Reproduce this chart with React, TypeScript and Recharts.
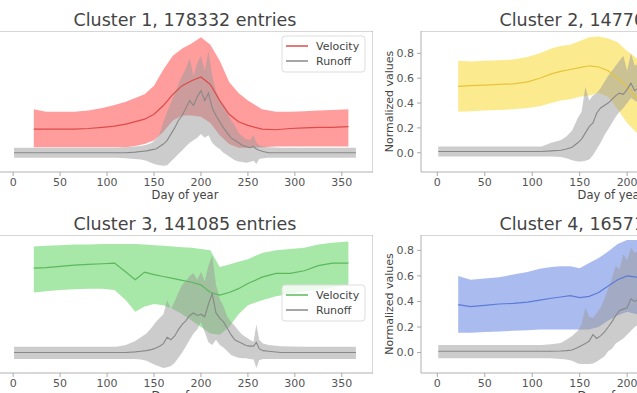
import React from "react";
import {
  Area,
  ComposedChart,
  Line,
  ReferenceArea,
  XAxis,
  YAxis,
} from "recharts";

// days where the velocity mean / band was sampled
const velocityDays = [22, 35, 50, 65, 80, 95, 108, 120, 130, 140, 150, 160, 170, 180, 190, 200, 210, 220, 230, 240, 250, 265, 280, 295, 310, 325, 340, 357];

// days where runoff was sampled
const runoffDays = [1, 30, 60, 90, 110, 120, 130, 136, 142, 148, 152, 156, 160, 164, 168, 172, 176, 180, 184, 188, 192, 196, 200, 204, 208, 212, 216, 220, 224, 228, 232, 236, 240, 244, 248, 252, 256, 259, 262, 266, 272, 285, 310, 340, 365];

const xTicks = [0, 50, 100, 150, 200, 250, 300, 350];
const yTicks = [0, 0.2, 0.4, 0.6, 0.8];

const titles = ["Cluster 1, 178332 entries", "Cluster 2, 147706 entries", "Cluster 3, 141085 entries", "Cluster 4, 165713 entries"];

// cluster 1
const c1VelMean = [0.19, 0.19, 0.19, 0.19, 0.195, 0.205, 0.215, 0.23, 0.25, 0.27, 0.31, 0.38, 0.47, 0.54, 0.58, 0.61, 0.55, 0.42, 0.31, 0.25, 0.22, 0.19, 0.185, 0.195, 0.2, 0.205, 0.205, 0.21];
const c1VelHi = [0.35, 0.33, 0.33, 0.33, 0.34, 0.36, 0.385, 0.41, 0.44, 0.47, 0.54, 0.67, 0.78, 0.84, 0.88, 0.93, 0.87, 0.74, 0.57, 0.48, 0.42, 0.35, 0.33, 0.33, 0.335, 0.34, 0.345, 0.35];
const c1VelLo = [0.045, 0.045, 0.045, 0.045, 0.045, 0.045, 0.045, 0.045, 0.055, 0.07, 0.1, 0.17, 0.26, 0.3, 0.3, 0.29, 0.24, 0.14, 0.07, 0.04, 0.04, 0.045, 0.05, 0.05, 0.05, 0.05, 0.05, 0.05];
const c1RunMean = [0, 0, 0, 0, 0, 0, 0.005, 0.01, 0.015, 0.025, 0.03, 0.05, 0.07, 0.1, 0.15, 0.2, 0.26, 0.3, 0.36, 0.42, 0.38, 0.45, 0.5, 0.42, 0.48, 0.36, 0.3, 0.25, 0.2, 0.16, 0.12, 0.1, 0.08, 0.06, 0.05, 0.04, 0.05, 0.03, 0.02, 0.01, 0, 0, 0, 0, 0];
const c1RunLo = [-0.04, -0.04, -0.04, -0.04, -0.04, -0.045, -0.05, -0.055, -0.065, -0.085, -0.095, -0.1, -0.105, -0.1, -0.07, -0.04, -0.01, 0.02, 0.05, 0.08, 0.1, 0.12, 0.15, 0.12, 0.14, 0.08, 0.05, 0.03, 0, -0.02, -0.04, -0.06, -0.07, -0.075, -0.08, -0.075, -0.065, -0.09, -0.05, -0.045, -0.04, -0.04, -0.04, -0.04, -0.04];
const c1RunHi = [0.04, 0.04, 0.04, 0.04, 0.04, 0.045, 0.05, 0.055, 0.065, 0.08, 0.11, 0.15, 0.25, 0.33, 0.4, 0.48, 0.55, 0.62, 0.68, 0.76, 0.62, 0.72, 0.78, 0.66, 0.82, 0.62, 0.5, 0.42, 0.38, 0.32, 0.26, 0.22, 0.16, 0.13, 0.11, 0.1, 0.14, 0.08, 0.06, 0.05, 0.045, 0.04, 0.04, 0.04, 0.04];

// cluster 2
const c2VelMean = [0.535, 0.54, 0.545, 0.55, 0.555, 0.57, 0.6, 0.635, 0.655, 0.67, 0.685, 0.7, 0.69, 0.66, 0.6, 0.53, 0.44, 0.38, 0.34, 0.32, 0.31, 0.31, 0.32, 0.33, 0.34, 0.35, 0.36, 0.37];
const c2VelHi = [0.74, 0.735, 0.74, 0.745, 0.75, 0.77, 0.8, 0.84, 0.86, 0.87, 0.9, 0.93, 0.935, 0.92, 0.89, 0.82, 0.76, 0.66, 0.58, 0.54, 0.52, 0.52, 0.53, 0.54, 0.55, 0.56, 0.57, 0.58];
const c2VelLo = [0.33, 0.335, 0.34, 0.345, 0.35, 0.36, 0.375, 0.4, 0.42, 0.43, 0.45, 0.46, 0.48, 0.45, 0.35, 0.24, 0.16, 0.12, 0.1, 0.1, 0.1, 0.1, 0.11, 0.12, 0.13, 0.14, 0.15, 0.16];
const c2RunMean = [0.01, 0.01, 0.01, 0.01, 0.01, 0.015, 0.02, 0.03, 0.045, 0.08, 0.11, 0.16, 0.21, 0.24, 0.32, 0.36, 0.38, 0.4, 0.43, 0.46, 0.48, 0.47, 0.51, 0.56, 0.5, 0.52, 0.48, 0.45, 0.4, 0.35, 0.3, 0.26, 0.22, 0.18, 0.15, 0.12, 0.1, 0.08, 0.06, 0.05, 0.03, 0.02, 0.01, 0.01, 0.01];
const c2RunLo = [-0.03, -0.03, -0.03, -0.03, -0.03, -0.03, -0.035, -0.045, -0.06, -0.07, -0.07, -0.065, -0.055, -0.02, 0.03, 0.08, 0.14, 0.19, 0.24, 0.29, 0.33, 0.36, 0.4, 0.44, 0.42, 0.4, 0.36, 0.3, 0.24, 0.2, 0.16, 0.12, 0.09, 0.06, 0.04, 0.02, 0, -0.01, -0.02, -0.02, -0.025, -0.03, -0.03, -0.03, -0.03];
const c2RunHi = [0.05, 0.05, 0.05, 0.05, 0.05, 0.08, 0.1, 0.13, 0.18, 0.28, 0.33, 0.53, 0.42, 0.46, 0.48, 0.52, 0.57, 0.62, 0.66, 0.7, 0.74, 0.78, 0.66, 0.8, 0.7, 0.72, 0.68, 0.64, 0.58, 0.52, 0.46, 0.4, 0.35, 0.3, 0.26, 0.22, 0.19, 0.16, 0.13, 0.11, 0.08, 0.06, 0.05, 0.05, 0.05];

// cluster 3
const c3VelMean = [0.66, 0.665, 0.675, 0.685, 0.69, 0.695, 0.7, 0.63, 0.57, 0.63, 0.61, 0.595, 0.58, 0.565, 0.55, 0.53, 0.47, 0.45, 0.47, 0.5, 0.54, 0.59, 0.62, 0.62, 0.64, 0.68, 0.7, 0.7];
const c3VelHi = [0.83, 0.835, 0.84, 0.845, 0.845, 0.85, 0.85, 0.85, 0.85, 0.845, 0.84, 0.835, 0.83, 0.825, 0.82, 0.81, 0.8, 0.67, 0.69, 0.71, 0.73, 0.78, 0.8, 0.81, 0.82, 0.845, 0.86, 0.87];
const c3VelLo = [0.47, 0.48, 0.49, 0.495, 0.5, 0.5, 0.49, 0.41, 0.32, 0.36, 0.38, 0.37, 0.34, 0.3, 0.25, 0.2, 0.15, 0.14, 0.2, 0.3, 0.37, 0.41, 0.44, 0.46, 0.48, 0.49, 0.51, 0.53];
const c3RunMean = [0, 0, 0, 0, 0, 0, 0.005, 0.01, 0.015, 0.025, 0.035, 0.05, 0.07, 0.12, 0.1, 0.13, 0.18, 0.22, 0.25, 0.29, 0.31, 0.29, 0.3, 0.28, 0.38, 0.46, 0.31, 0.27, 0.24, 0.19, 0.14, 0.1, 0.085, 0.07, 0.055, 0.05, 0.05, 0.08, 0.03, 0.015, 0.01, 0, 0, 0, 0];
const c3RunLo = [-0.05, -0.05, -0.05, -0.05, -0.05, -0.05, -0.05, -0.055, -0.065, -0.085, -0.1, -0.11, -0.12, -0.115, -0.105, -0.08, -0.04, 0, 0.05, 0.1, 0.15, 0.18, 0.24, 0.16, 0.08, 0.06, 0.1, 0.06, 0.04, 0.01, -0.02, -0.03, -0.04, -0.045, -0.045, -0.05, -0.055, -0.12, -0.06, -0.05, -0.05, -0.05, -0.05, -0.05, -0.05];
const c3RunHi = [0.045, 0.045, 0.045, 0.045, 0.045, 0.06, 0.09, 0.12, 0.15, 0.2, 0.24, 0.27, 0.3, 0.41, 0.34, 0.4, 0.47, 0.53, 0.56, 0.6, 0.62, 0.57, 0.63, 0.56, 0.68, 0.76, 0.53, 0.42, 0.36, 0.28, 0.24, 0.21, 0.17, 0.14, 0.12, 0.1, 0.085, 0.22, 0.1, 0.07, 0.06, 0.05, 0.045, 0.045, 0.045];

// cluster 4
const c4VelMean = [0.375, 0.36, 0.37, 0.38, 0.385, 0.395, 0.41, 0.425, 0.435, 0.445, 0.43, 0.44, 0.47, 0.52, 0.57, 0.6, 0.59, 0.57, 0.54, 0.5, 0.47, 0.44, 0.42, 0.41, 0.4, 0.4, 0.39, 0.39];
const c4VelHi = [0.6, 0.57, 0.58, 0.59, 0.61, 0.63, 0.655, 0.67, 0.675, 0.675, 0.66, 0.7, 0.74, 0.79, 0.85, 0.88, 0.88, 0.87, 0.85, 0.8, 0.76, 0.72, 0.69, 0.68, 0.67, 0.66, 0.66, 0.65];
const c4VelLo = [0.155, 0.155, 0.16, 0.165, 0.17, 0.175, 0.18, 0.18, 0.18, 0.18, 0.18, 0.18, 0.2, 0.25, 0.29, 0.32, 0.3, 0.27, 0.24, 0.2, 0.18, 0.16, 0.15, 0.14, 0.14, 0.13, 0.13, 0.13];
const c4RunMean = [0.01, 0.01, 0.01, 0.01, 0.01, 0.01, 0.012, 0.015, 0.02, 0.04, 0.055, 0.07, 0.09, 0.14, 0.11, 0.13, 0.16, 0.2, 0.24, 0.29, 0.33, 0.34, 0.35, 0.42, 0.4, 0.42, 0.4, 0.37, 0.33, 0.3, 0.26, 0.22, 0.19, 0.16, 0.13, 0.1, 0.08, 0.07, 0.05, 0.04, 0.03, 0.02, 0.01, 0.01, 0.01];
const c4RunLo = [-0.045, -0.045, -0.045, -0.045, -0.045, -0.045, -0.05, -0.055, -0.065, -0.085, -0.09, -0.09, -0.09, -0.085, -0.07, -0.05, -0.03, 0.01, 0.03, 0.07, 0.09, 0.11, 0.14, 0.17, 0.2, 0.22, 0.2, 0.17, 0.14, 0.12, 0.1, 0.07, 0.05, 0.03, 0.01, 0, -0.01, -0.02, -0.03, -0.035, -0.04, -0.045, -0.045, -0.045, -0.045];
const c4RunHi = [0.06, 0.06, 0.06, 0.06, 0.06, 0.065, 0.075, 0.1, 0.13, 0.17, 0.22, 0.35, 0.28, 0.27, 0.31, 0.35, 0.42, 0.5, 0.58, 0.68, 0.65, 0.77, 0.72, 0.82, 0.78, 0.8, 0.78, 0.72, 0.66, 0.6, 0.52, 0.45, 0.4, 0.34, 0.28, 0.24, 0.2, 0.17, 0.14, 0.11, 0.09, 0.07, 0.06, 0.06, 0.06];

const build = (days: number[], mean: number[], lo: number[], hi: number[]) =>
  days.map((day, i) => ({ day, mean: mean[i], range: [lo[i], hi[i]] }));

const X_DOMAIN: [number, number] = [-17.2, 383.2];
const AXIS_W = 40;
const AXIS_H = 30;

// left-column panels are cut by the picture edge, so their y axis is not shown
const panels = [
  { left: -3, top: 31, w: 376, h: 141, domain: [-0.155, 0.98], showY: false, fill: "#ff3b3b", line: "#dd4b4b", vel: build(velocityDays, c1VelMean, c1VelLo, c1VelHi), run: build(runoffDays, c1RunMean, c1RunLo, c1RunHi) },
  { left: 421, top: 31, w: 380, h: 141, domain: [-0.155, 0.98], showY: true, fill: "#f7d51d", line: "#e8c43a", vel: build(velocityDays, c2VelMean, c2VelLo, c2VelHi), run: build(runoffDays, c2RunMean, c2RunLo, c2RunHi) },
  { left: -3, top: 235, w: 376, h: 138, domain: [-0.16, 0.92], showY: false, fill: "#4fd04f", line: "#5cb85c", vel: build(velocityDays, c3VelMean, c3VelLo, c3VelHi), run: build(runoffDays, c3RunMean, c3RunLo, c3RunHi) },
  { left: 421, top: 235, w: 380, h: 138, domain: [-0.16, 0.92], showY: true, fill: "#5577e0", line: "#5a7bd8", vel: build(velocityDays, c4VelMean, c4VelLo, c4VelHi), run: build(runoffDays, c4RunMean, c4RunLo, c4RunHi) },
];

const tickStyle = { fontSize: 11, fill: "#555", fontFamily: "DejaVu Sans" };
const textColor = "#444";

function Panel({ p }: { p: (typeof panels)[number] }) {
  return (
    <div style={{ position: "absolute", left: p.left - AXIS_W, top: p.top }}>
      <ComposedChart width={p.w + AXIS_W} height={p.h + AXIS_H} margin={{ top: 0, right: 0, bottom: 0, left: 0 }}>
        <XAxis
          type="number"
          dataKey="day"
          domain={X_DOMAIN}
          ticks={xTicks}
          interval={0}
          allowDataOverflow
          height={AXIS_H}
          axisLine={false}
          tickSize={4}
          tickLine={{ stroke: "#aaa" }}
          tick={tickStyle}
        />
        <YAxis
          type="number"
          domain={p.domain}
          ticks={yTicks}
          interval={0}
          allowDataOverflow
          width={AXIS_W}
          axisLine={false}
          tickSize={4}
          tickMargin={3}
          tickLine={p.showY ? { stroke: "#aaa" } : false}
          tick={p.showY ? tickStyle : false}
          tickFormatter={(v: number) => v.toFixed(1)}
        />
        <Area data={p.vel} dataKey="range" type="linear" stroke="none" fill={p.fill} fillOpacity={0.5} isAnimationActive={false} />
        <Line data={p.vel} dataKey="mean" type="linear" stroke={p.line} strokeWidth={1.2} dot={false} activeDot={false} isAnimationActive={false} />
        <Area data={p.run} dataKey="range" type="linear" stroke="none" fill="#999" fillOpacity={0.5} isAnimationActive={false} />
        <Line data={p.run} dataKey="mean" type="linear" stroke="#888" strokeWidth={1.1} dot={false} activeDot={false} isAnimationActive={false} />
        <ReferenceArea x1={X_DOMAIN[0]} x2={X_DOMAIN[1]} y1={p.domain[0]} y2={p.domain[1]} fill="none" stroke="#b0b0b0" strokeWidth={1} />
      </ComposedChart>
    </div>
  );
}

function LegendBox({ x, y, color }: { x: number; y: number; color: string }) {
  return (
    <g>
      <rect x={x} y={y} width={83} height={36} rx={3} fill="#fff" fillOpacity={0.8} stroke="#ddd" />
      <line x1={x + 4} x2={x + 26} y1={y + 10} y2={y + 10} stroke={color} strokeWidth={1.5} />
      <text x={x + 34} y={y + 14} fontSize={11} fill={textColor}>Velocity</text>
      <line x1={x + 4} x2={x + 26} y1={y + 25} y2={y + 25} stroke="#888" strokeWidth={1.5} />
      <text x={x + 34} y={y + 29} fontSize={11} fill={textColor}>Runoff</text>
    </g>
  );
}

export default function App() {
  return (
    <div style={{ position: "relative", width: 637, height: 393, overflow: "hidden", background: "#fff", fontFamily: "DejaVu Sans" }}>
      <style>{"body{margin:0}"}</style>
      {panels.map((p, i) => (
        <Panel key={i} p={p} />
      ))}
      <svg width={637} height={393} style={{ position: "absolute", left: 0, top: 0, pointerEvents: "none" }} fontFamily="DejaVu Sans">
        {panels.map((p, i) => (
          <g key={i}>
            <text x={p.left + p.w / 2} y={p.top - 5} textAnchor="middle" fontSize={17.5} fill={textColor}>
              {titles[i]}
            </text>
            <text x={p.left + p.w / 2} y={p.top + p.h + 27} textAnchor="middle" fontSize={11.5} fill={textColor}>
              Day of year
            </text>
            {p.showY && (
              <text transform={`translate(${p.left - 28}, ${p.top + p.h / 2}) rotate(-90)`} textAnchor="middle" fontSize={11} fill={textColor}>
                Normalized values
              </text>
            )}
          </g>
        ))}
        <LegendBox x={282} y={36} color={panels[0].line} />
        <LegendBox x={282} y={285} color={panels[2].line} />
      </svg>
    </div>
  );
}
